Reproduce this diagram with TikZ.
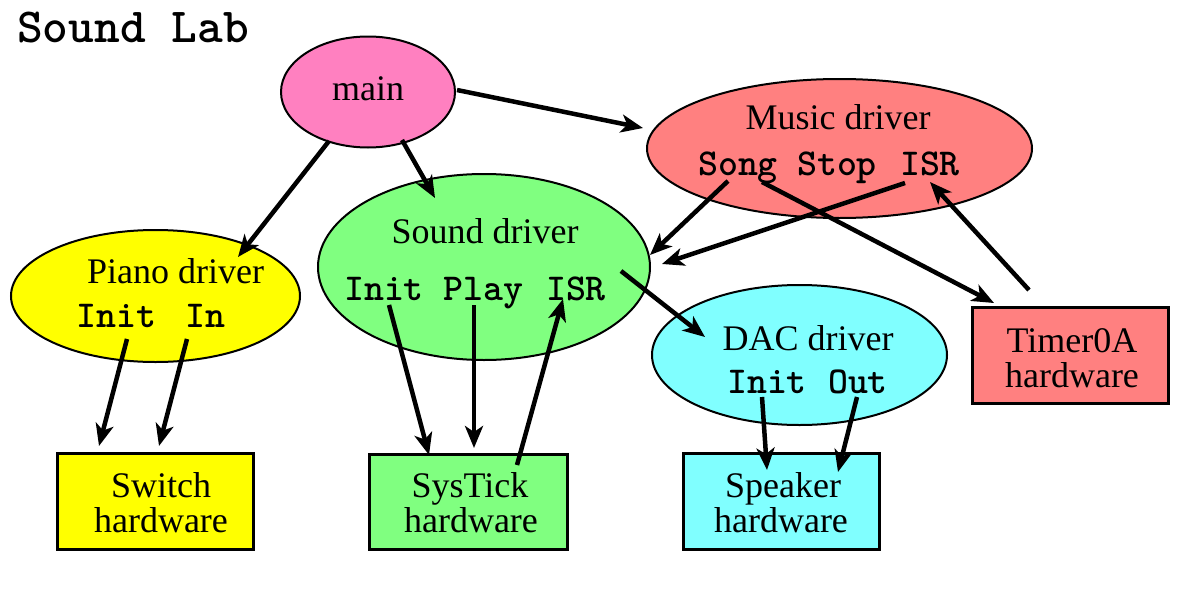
\documentclass[tikz,border=0pt]{standalone}
\usepackage{fontspec}
\setmainfont{Liberation Serif}
\newfontfamily\codefont{lmmonolt10-bold.otf}
\usetikzlibrary{shapes.geometric,arrows.meta}
\definecolor{cpink}{HTML}{FF80C0}
\definecolor{cred}{HTML}{FF8080}
\definecolor{cgreen}{HTML}{80FF80}
\definecolor{cyel}{HTML}{FFFF00}
\definecolor{ccyan}{HTML}{80FFFF}
\tikzset{
  drv/.style={ellipse, draw=black, line width=2pt, inner sep=0pt},
  hwbox/.style={rectangle, draw=black, line width=3pt, inner sep=0pt},
  lbl/.style={anchor=base, inner sep=0pt, font=\fontsize{36}{40}\selectfont},
  code/.style={anchor=base, inner sep=0pt, font=\fontsize{38}{40}\selectfont\codefont},
  arr/.style={line width=4.5pt, -{Stealth[length=22pt,width=18pt,inset=6pt]}}
}
\begin{document}
\begin{tikzpicture}[x=1pt,y=-1pt]
\useasboundingbox (0,0) rectangle (1191,613);
% title
\node[anchor=base west, inner sep=0pt, font=\fontsize{49}{52}\selectfont\codefont] (title) at (17,42) {Sound Lab};
% ellipses
\node[drv, fill=cpink, minimum width=174pt, minimum height=111pt] (main) at (368,92) {};
\node[drv, fill=cred, minimum width=385pt, minimum height=139pt] (music) at (839.5,148.5) {};
\node[drv, fill=cgreen, minimum width=332pt, minimum height=186pt] (sound) at (484,267) {};
\node[drv, fill=cyel, minimum width=289pt, minimum height=132pt] (piano) at (155.5,296) {};
\node[drv, fill=ccyan, minimum width=295pt, minimum height=140pt] (dac) at (799.5,355) {};
% boxes
\node[hwbox, fill=cred, minimum width=196pt, minimum height=96pt] (timer) at (1070,355) {};
\node[hwbox, fill=cyel, minimum width=196pt, minimum height=96pt] (switch) at (155,501) {};
\node[hwbox, fill=cgreen, minimum width=198pt, minimum height=95pt] (systick) at (468,501.5) {};
\node[hwbox, fill=ccyan, minimum width=196pt, minimum height=96pt] (speaker) at (781,501) {};
% labels
\node[lbl] (tmain) at (368,100) {main};
\node[lbl] (tmusic) at (838,129) {Music driver};
\node[code] (mSong) at (738,175) {Song};
\node[code] (mStop) at (837,175) {Stop};
\node[code] (mISR) at (930,175) {ISR};
\node[lbl] (tsound) at (485,243) {Sound driver};
\node[code] (sInit) at (384,300) {Init};
\node[code] (sPlay) at (483.5,300) {Play};
\node[code] (sISR) at (576,300) {ISR};
\node[lbl] (tpiano) at (175.5,283) {Piano driver};
\node[code] (pInit) at (116.5,327) {Init};
\node[code] (pIn) at (205,327) {In};
\node[lbl] (tdac) at (808,350) {DAC driver};
\node[code] (dInit) at (767,393) {Init};
\node[code] (dOut) at (858,393) {Out};
\node[lbl] (ttimer1) at (1072,352) {Timer0A};
\node[lbl] (ttimer2) at (1072,387) {hardware};
\node[lbl] (tsw1) at (161,497) {Switch};
\node[lbl] (tsw2) at (161,532) {hardware};
\node[lbl] (tst1) at (470,497) {SysTick};
\node[lbl] (tst2) at (471,532) {hardware};
\node[lbl] (tsp1) at (783,497) {Speaker};
\node[lbl] (tsp2) at (781,532) {hardware};
% connector end points
\coordinate (a1s) at (329,141); \coordinate (a1e) at (238,257);
\coordinate (a2s) at (402,140); \coordinate (a2e) at (435,198);
\coordinate (a3s) at (457,90);  \coordinate (a3e) at (643,128);
\coordinate (a4s) at (728,181); \coordinate (a4e) at (650,255);
\coordinate (a5s) at (905,183); \coordinate (a5e) at (662,264);
\coordinate (a6s) at (762,182); \coordinate (a6e) at (994,303);
\coordinate (a7s) at (1029,290); \coordinate (a7e) at (930,182);
\coordinate (a8s) at (621,271); \coordinate (a8e) at (705,337);
\coordinate (a9s) at (127,339); \coordinate (a9e) at (99,446);
\coordinate (a10s) at (187,339); \coordinate (a10e) at (159,446);
\coordinate (a11s) at (389,305); \coordinate (a11e) at (429,455);
\coordinate (a12s) at (474,305); \coordinate (a12e) at (474,448);
\coordinate (a13s) at (517,465); \coordinate (a13e) at (563,299);
\coordinate (a14s) at (762,397); \coordinate (a14e) at (767,470);
\coordinate (a15s) at (857,397); \coordinate (a15e) at (838,472);
% connectors
\draw[arr] (a1s) -- (a1e);
\draw[arr] (a2s) -- (a2e);
\draw[arr] (a3s) -- (a3e);
\draw[arr] (a4s) -- (a4e);
\draw[arr] (a5s) -- (a5e);
\draw[arr] (a6s) -- (a6e);
\draw[arr] (a7s) -- (a7e);
\draw[arr] (a8s) -- (a8e);
\draw[arr] (a9s) -- (a9e);
\draw[arr] (a10s) -- (a10e);
\draw[arr] (a11s) -- (a11e);
\draw[arr] (a12s) -- (a12e);
\draw[arr] (a13s) -- (a13e);
\draw[arr] (a14s) -- (a14e);
\draw[arr] (a15s) -- (a15e);
\end{tikzpicture}
\end{document}
